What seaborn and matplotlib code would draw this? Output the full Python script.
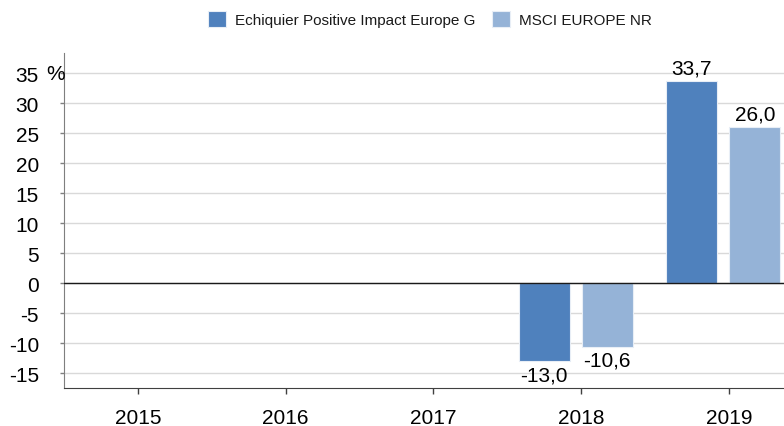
import pandas as pd
import numpy as np
import matplotlib.pyplot as plt
import seaborn as sns

years = ['2015', '2016', '2017', '2018', '2019']
series = ['Echiquier Positive Impact Europe G', 'MSCI EUROPE NR']
fund_values = [np.nan, np.nan, np.nan, -13.0, 33.7]
index_values = [np.nan, np.nan, np.nan, -10.6, 26.0]
colors = ['#4f81bd', '#95b3d7']

df = pd.DataFrame({
    'year': years * 2,
    'series': [series[0]] * 5 + [series[1]] * 5,
    'value': fund_values + index_values,
}).dropna()

sns.set_style('white')
plt.rcParams['font.family'] = ['Liberation Sans', 'DejaVu Sans']
plt.rcParams['text.color'] = 'black'

fig = plt.figure(figsize=(7.84, 4.27), dpi=100)
ax = fig.add_axes([0.0816, 0.089, 0.9184, 0.7845])

sns.barplot(data=df, x='year', y='value', hue='series', order=years,
            hue_order=series, palette=colors, saturation=1, width=0.852,
            gap=0.19, edgecolor='#e8eef6', linewidth=0.8, ax=ax, zorder=3)

for c in ax.containers:
    labels = [f'{v:.1f}'.replace('.', ',') for v in c.datavalues]
    ax.bar_label(c, labels=labels, padding=3, fontsize=15, color='black')

ax.set_xlim(-0.464, 4.411)
ax.set_ylim(-17.5, 38.4)
yt = list(range(-15, 40, 5))
ax.set_yticks(yt)
ax.set_yticklabels([str(v) for v in yt])
ax.set_xticks(np.arange(len(years)) + 0.037)
ax.set_xticklabels(years)
ax.text(-0.025, 35, '%', transform=ax.get_yaxis_transform(), fontsize=15,
        ha='left', va='center', color='black')

ax.grid(axis='y', color='#d9d9d9', linewidth=1, zorder=0)
ax.axhline(0, color='#1a1a1a', linewidth=1, zorder=4)
ax.set_xlabel('')
ax.set_ylabel('')
for s in ['top', 'right']:
    ax.spines[s].set_visible(False)
ax.spines['left'].set_color('#7f7f7f')
ax.spines['bottom'].set_color('#404040')
ax.tick_params(axis='x', direction='out', length=4.5, width=1, color='#404040',
               pad=10, labelsize=15, labelcolor='black', bottom=True)
ax.tick_params(axis='y', direction='out', length=3, width=1, color='#7f7f7f',
               pad=15, labelsize=15, labelcolor='black', left=True)

leg = ax.legend(loc='center', bbox_to_anchor=(0.508, 1.101), ncol=2,
                frameon=False, fontsize=11, handlelength=1.18,
                handleheight=1.18, columnspacing=1.05, handletextpad=0.6)
for t in leg.get_texts():
    t.set_color('#1a1a1a')

fig.savefig('out.png', dpi=100)
